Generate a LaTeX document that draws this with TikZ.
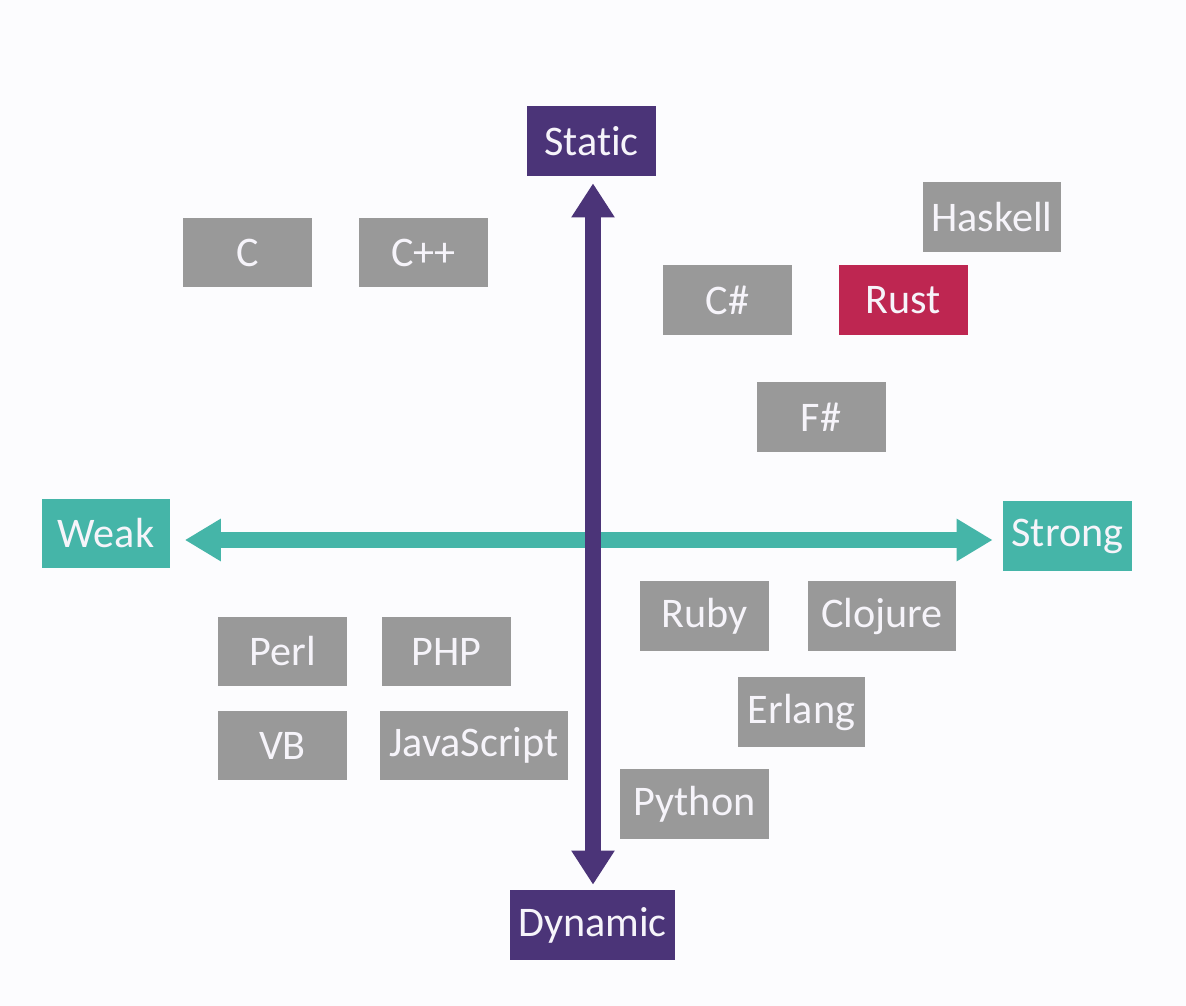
\documentclass[tikz,border=0pt]{standalone}
\usepackage{fontspec}
\setmainfont[Ligatures=NoCommon]{Carlito}
\usetikzlibrary{arrows.meta}

\definecolor{slidebg}{HTML}{FCFCFE}
\definecolor{staticpurple}{HTML}{4B3478}
\definecolor{strongteal}{HTML}{45B5A8}
\definecolor{langgray}{HTML}{999999}
\definecolor{rustred}{HTML}{BE2651}
\definecolor{labelwhite}{HTML}{F6F4FA}

\begin{document}
\begin{tikzpicture}[x=0.02cm,y=-0.02cm,font=\fontsize{24}{28}\selectfont]

    % Define node styles
    \tikzstyle{lang_block} = [fill=langgray, text=labelwhite, minimum width=2.58cm, minimum height=1.4cm, inner xsep=0.14cm, text centered]
    \tikzstyle{rust_block} = [lang_block, fill=rustred]
    \tikzstyle{static_block} = [fill=staticpurple, text=labelwhite, minimum width=2.58cm, minimum height=1.4cm, inner xsep=0.14cm, text centered]
    \tikzstyle{strong_block} = [fill=strongteal, text=labelwhite, minimum width=2.58cm, minimum height=1.4cm, inner xsep=0.14cm, text centered]

    % Background
    \fill [slidebg] (0,0) rectangle (1186,1006);
    \useasboundingbox (0,0) rectangle (1186,1006);

    % Draw axis nodes
    \node [static_block] (static) at (591.5,141) {Static};
    \node [static_block, minimum width=3.3cm] (dynamic) at (592.5,925) {Dynamic};
    \node [strong_block] (weak) at (106,533.5) {Weak};
    \node [strong_block] (strong) at (1067.5,536) {Strong};

    % Draw language nodes
    \node [lang_block] (c) at (247.5,252.5) {C};
    \node [lang_block] (cpp) at (423.5,252.5) {C++};
    \node [lang_block, minimum width=2.76cm] (haskell) at (992,217) {Haskell};
    \node [lang_block] (csharp) at (727.5,300) {C\#};
    \node [rust_block] (rust) at (903.5,300) {Rust};
    \node [lang_block] (fsharp) at (821,417) {F\#};
    \node [lang_block] (ruby) at (704.5,616) {Ruby};
    \node [lang_block, minimum width=2.96cm] (clojure) at (882,616) {Clojure};
    \node [lang_block] (perl) at (282.5,651.5) {Perl};
    \node [lang_block] (php) at (446.5,651.5) {PHP};
    \node [lang_block, minimum width=2.54cm] (erlang) at (801.5,712) {Erlang};
    \node [lang_block] (vb) at (282.5,745.5) {VB};
    \node [lang_block, minimum width=3.76cm] (javascript) at (474,745.5) {JavaScript};
    \node [lang_block, minimum width=2.98cm] (python) at (694.5,804) {Python};

    % Draw arrows
    \draw [{Triangle[width=0.8cm,length=0.72cm]}-{Triangle[width=0.8cm,length=0.72cm]}, strongteal, line width=0.32cm, shorten <=0.28cm, shorten >=0.2cm] (weak.east |- 0,540) -- (strong.west |- 0,540);
    \draw [{Triangle[width=0.82cm,length=0.68cm]}-{Triangle[width=0.82cm,length=0.68cm]}, staticpurple, line width=0.32cm, shorten <=0.14cm, shorten >=0.1cm] (static.south -| 593,0) -- (dynamic.north -| 593,0);

\end{tikzpicture}
\end{document}
